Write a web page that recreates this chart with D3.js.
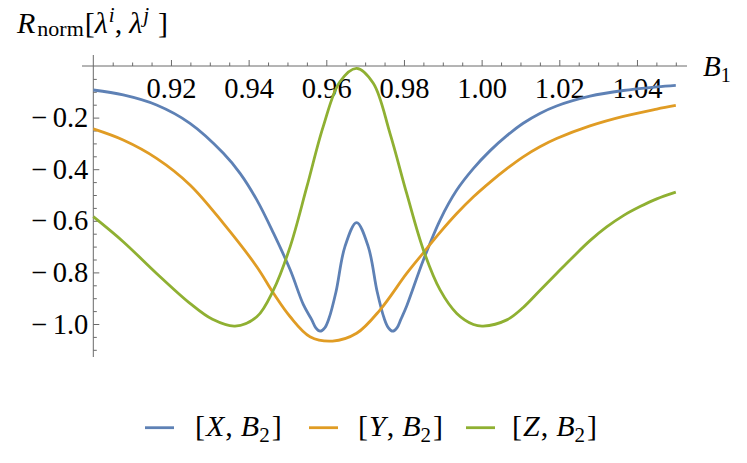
<!DOCTYPE html>
<html>
<head>
<meta charset="utf-8">
<script src="https://cdn.jsdelivr.net/npm/d3@7"></script>
<style>
  body { margin: 0; background: #fff; }
  text { font-family: "Liberation Serif", "Times New Roman", serif; fill: #000; }
</style>
</head>
<body>
<svg id="chart" width="747" height="463"></svg>
<script>
// x values (B1) and R_norm values
const xB = [0.900, 0.9077, 0.9163, 0.9249, 0.9335, 0.9378, 0.9421, 0.9464, 0.9507, 0.9541, 0.9562, 0.9573, 0.9584, 0.9596, 0.9607, 0.9625, 0.9648, 0.9678,
  0.9708, 0.9731, 0.9749, 0.9760, 0.9771, 0.9782, 0.9792, 0.9807, 0.985, 0.9893, 0.9936, 0.9979, 1.0022, 1.0065, 1.0107, 1.015, 1.0193, 1.0279, 1.0365, 1.0451, 1.050];
const seriesX = [-0.093, -0.112, -0.151, -0.222, -0.338, -0.416, -0.519, -0.648, -0.79, -0.925, -0.982, -1.015, -1.028, -1.015, -0.978, -0.875, -0.700, -0.607,
  -0.700, -0.875, -0.978, -1.015, -1.028, -1.015, -0.982, -0.930, -0.752, -0.597, -0.481, -0.397, -0.328, -0.270, -0.222, -0.184, -0.155, -0.117, -0.095, -0.081, -0.075];

const xY = [0.900, 0.9077, 0.9163, 0.9249, 0.9335, 0.9421, 0.9464, 0.9507, 0.9558, 0.9616, 0.9678, 0.9738, 0.9807, 0.985, 0.9893, 0.9936,
  0.9979, 1.0022, 1.0065, 1.0107, 1.015, 1.0193, 1.0279, 1.0365, 1.0451, 1.050];
const seriesY = [-0.244, -0.287, -0.358, -0.461, -0.610, -0.778, -0.881, -0.972, -1.049, -1.066, -1.036, -0.946, -0.804, -0.724, -0.645, -0.572,
  -0.507, -0.450, -0.398, -0.352, -0.313, -0.281, -0.232, -0.195, -0.167, -0.153];

const xZ = [0.900, 0.9077, 0.9163, 0.9249, 0.9307, 0.9365, 0.9421, 0.9464, 0.9507, 0.955, 0.9592, 0.9635, 0.9678, 0.9721, 0.9764, 0.9807,
  0.985, 0.9893, 0.9936, 0.9979, 1.0004, 1.0065, 1.0107, 1.015, 1.0193, 1.0236, 1.0279, 1.0322, 1.0365, 1.0408, 1.0451, 1.050];
const seriesZ = [-0.584, -0.681, -0.804, -0.920, -0.982, -1.008, -0.972, -0.868, -0.700, -0.468, -0.235, -0.061, -0.009, -0.067, -0.261, -0.494,
  -0.713, -0.868, -0.959, -1.002, -1.008, -0.984, -0.936, -0.870, -0.804, -0.739, -0.677, -0.624, -0.580, -0.545, -0.515, -0.489];

const names = ['X', 'Y', 'Z'];
const colors = ['#5E81B5', '#E09C24', '#8FB032'];
const xTicks = [0.92, 0.94, 0.96, 0.98, 1.00, 1.02, 1.04];
const yTicks = [-0.2, -0.4, -0.6, -0.8, -1.0];

const svg = d3.select('#chart');
const x = d3.scaleLinear().domain([0.90, 1.05]).range([93.3, 675.8]);
const y = d3.scaleLinear().domain([0, -1]).range([66, 324]);
const axisColor = '#6a6a6a';

// axis lines
svg.append('line')
  .attr('x1', 82).attr('x2', 687).attr('y1', y(0)).attr('y2', y(0))
  .attr('stroke', axisColor).attr('stroke-width', 1);
svg.append('line')
  .attr('x1', x(0.90)).attr('x2', x(0.90)).attr('y1', 55).attr('y2', 357)
  .attr('stroke', axisColor).attr('stroke-width', 1);

// x ticks (pointing up), labels below
const xMinor = d3.range(0.905, 1.0505, 0.005).filter(v => !xTicks.some(t => Math.abs(t - v) < 1e-6));
const gxMinor = svg.append('g').attr('transform', `translate(0,${y(0)})`)
  .call(d3.axisBottom(x).tickValues(xMinor).tickSizeInner(-3.5).tickSizeOuter(0).tickFormat(''));
const gx = svg.append('g').attr('transform', `translate(0,${y(0)})`)
  .call(d3.axisBottom(x).tickValues(xTicks).tickSizeInner(-6).tickSizeOuter(0).tickFormat(d3.format('.2f')));
[gxMinor, gx].forEach(g => {
  g.select('.domain').remove();
  g.selectAll('line').attr('stroke', axisColor);
});
gx.selectAll('text')
  .attr('y', 31.5).attr('dy', null)
  .style('font-size', '28.5px')
  .style('font-family', '"Liberation Serif", serif')
  .attr('fill', '#000');

// y ticks (pointing right), labels left
const yMinor = d3.range(-0.05, -1.1001, -0.05).filter(v => !yTicks.some(t => Math.abs(t - v) < 1e-6));
const gyMinor = svg.append('g').attr('transform', `translate(${x(0.90)},0)`)
  .call(d3.axisLeft(y).tickValues(yMinor).tickSizeInner(-3.5).tickSizeOuter(0).tickFormat(''));
const gy = svg.append('g').attr('transform', `translate(${x(0.90)},0)`)
  .call(d3.axisLeft(y).tickValues(yTicks).tickSizeInner(-6).tickSizeOuter(0).tickPadding(5)
    .tickFormat(d => '\u2212\u2009' + d3.format('.1f')(-d)));
[gyMinor, gy].forEach(g => {
  g.select('.domain').remove();
  g.selectAll('line').attr('stroke', axisColor);
});
gy.selectAll('text')
  .attr('dy', '0.32em')
  .style('font-size', '28.5px')
  .style('font-family', '"Liberation Serif", serif')
  .attr('fill', '#000');

// curves
const xsList = [xB, xY, xZ];
const ysList = [seriesX, seriesY, seriesZ];
const line = d3.line().x(d => x(d[0])).y(d => y(d[1])).curve(d3.curveCatmullRom.alpha(0.5));
ysList.forEach((vals, i) => {
  const pts = vals.map((v, k) => [xsList[i][k], v]);
  svg.append('path')
    .datum(pts)
    .attr('d', line)
    .attr('fill', 'none')
    .attr('stroke', colors[i])
    .attr('stroke-width', 2.8)
    .attr('stroke-linejoin', 'round');
});

// y-axis label R_norm[λ^i, λ^j]
const title = svg.append('text').attr('x', 17).attr('y', 33).style('font-size', '30px');
title.append('tspan').style('font-style', 'italic').text('R');
title.append('tspan').attr('dx', 2).attr('dy', 3).style('font-size', '22px').text('norm');
title.append('tspan').attr('dx', 1).attr('dy', -3).text('[');
title.append('tspan').style('font-style', 'italic').text('λ');
title.append('tspan').attr('dx', 1).attr('dy', -11).style('font-size', '21px').style('font-style', 'italic').text('i');
title.append('tspan').attr('dy', 11).text(',');
title.append('tspan').attr('dx', 7).style('font-style', 'italic').text('λ');
title.append('tspan').attr('dx', 1).attr('dy', -11).style('font-size', '21px').style('font-style', 'italic').text('j');
title.append('tspan').attr('dx', 9).attr('dy', 11).text(']');

// x-axis label B_1
const xl = svg.append('text').attr('x', 703).attr('y', 76).style('font-size', '29px');
xl.append('tspan').style('font-style', 'italic').text('B');
xl.append('tspan').attr('dy', 6).style('font-size', '20px').text('1');

// legend
const legX = [145, 309, 466];
const legTextX = [195, 358, 512];
names.forEach((n, i) => {
  const g = svg.append('g');
  g.append('line').attr('x1', legX[i]).attr('x2', legX[i] + 29).attr('y1', 427.7).attr('y2', 427.7)
    .attr('stroke', colors[i]).attr('stroke-width', 2.8);
  const t = g.append('text').attr('x', legTextX[i]).attr('y', 436).style('font-size', '30px');
  t.append('tspan').text('[');
  t.append('tspan').attr('dx', 1).style('font-style', 'italic').text(n);
  t.append('tspan').attr('dx', 1).text(',');
  t.append('tspan').attr('dx', 8).style('font-style', 'italic').text('B');
  t.append('tspan').attr('dy', 6).style('font-size', '21px').text('2');
  t.append('tspan').attr('dx', 2).attr('dy', -6).text(']');
});
</script>
</body>
</html>
